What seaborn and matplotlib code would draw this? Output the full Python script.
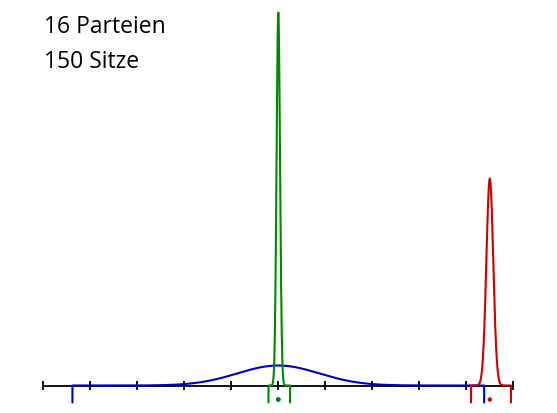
import numpy as np
import pandas as pd
import matplotlib
matplotlib.use("Agg")
import matplotlib.pyplot as plt
import seaborn as sns

# ---- data ----
series = ["blau", "gruen", "rot"]
means = [0.500, 0.500, 0.950]          # centre of each curve
sds = [0.087, 0.0037, 0.0073]           # spread of each curve
peaks = [20.0, 373.0, 207.0]            # peak height (relative density)
lows = [0.062, 0.479, 0.910]            # left end of interval
highs = [0.938, 0.525, 0.995]           # right end of interval
colors = ["#0000c8", "#008a00", "#cc0000"]
tick_values = [0.0, 0.1, 0.2, 0.3, 0.4, 0.5, 0.6, 0.7, 0.8, 0.9, 1.0]
info_lines = ["16 Parteien", "150 Sitze"]

sns.set_theme(style="white")
plt.rcParams["font.family"] = ["Open Sans", "DejaVu Sans"]

fig = plt.figure(figsize=(5.57, 4.14), dpi=100)
ax = fig.add_axes([0, 0, 1, 1])
ax.set_axis_off()

px = 470.0
ax.set_xlim(-43.3 / px, (557 - 43.3) / px)
ax.set_ylim(-27.5, 386.5)

# axis line with ticks
ax.plot([tick_values[0], tick_values[-1]], [0, 0], color="black", lw=1.3, zorder=1)
ax.vlines(tick_values, -4.5, 4.5, color="black", lw=1.3, zorder=1)

drop = -17.0
rows = []
for name, m, s, h, lo, hi in zip(series, means, sds, peaks, lows, highs):
    xs = np.linspace(lo, hi, 3000)
    ys = h * np.exp(-0.5 * ((xs - m) / s) ** 2)
    xs = np.concatenate([[lo], xs, [hi]])
    ys = np.concatenate([[drop], ys, [drop]])
    for i, (a, b) in enumerate(zip(xs, ys)):
        rows.append({"serie": name, "x": a, "y": b, "i": i})
df = pd.DataFrame(rows)

pal = dict(zip(series, colors))
sns.lineplot(data=df, x="x", y="y", hue="serie", palette=pal, sort=False,
             estimator=None, units="serie", lw=1.5, legend=False, ax=ax, zorder=3)

dots = pd.DataFrame({"serie": series, "x": means, "y": [-14.0] * 3})
sns.scatterplot(data=dots, x="x", y="y", hue="serie", palette=pal, s=10,
                linewidth=0, legend=False, ax=ax, zorder=4)

ax.text(44 / 557, 1 - 33.3 / 414, info_lines[0], transform=fig.transFigure,
        fontsize=16.5, color="black", ha="left", va="baseline")
ax.text(44 / 557, 1 - 67.7 / 414, info_lines[1], transform=fig.transFigure,
        fontsize=16.5, color="black", ha="left", va="baseline")

ax.set_xlabel("")
ax.set_ylabel("")
fig.savefig("out.png", dpi=100)
